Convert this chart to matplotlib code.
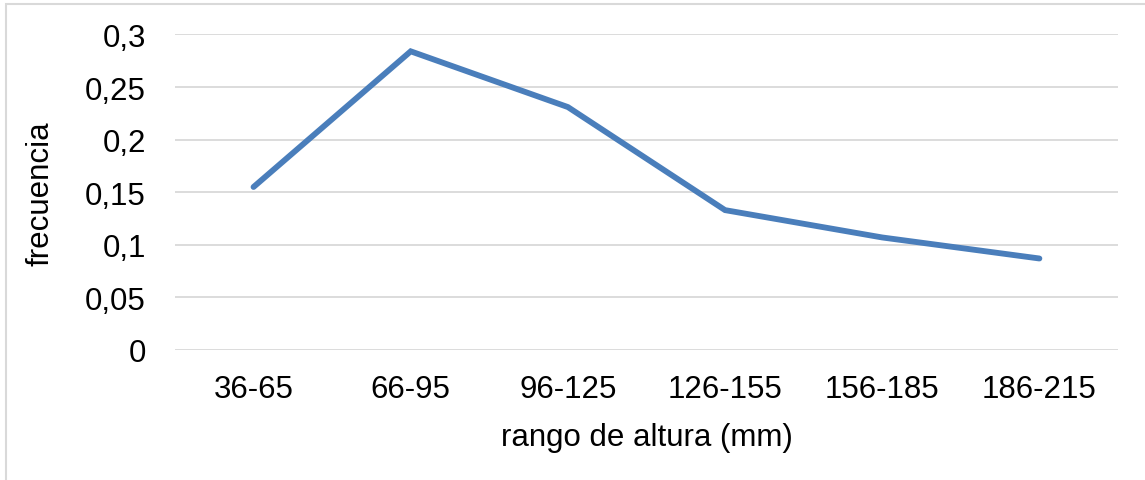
#!/usr/bin/env python3

"""
plot.py
"""

from matplotlib import pyplot as plt
from matplotlib.patches import Rectangle
from matplotlib.ticker import FuncFormatter, MultipleLocator

# Height ranges and their relative frequency.
rangos = ['36-65', '66-95', '96-125', '126-155', '156-185', '186-215']
frecuencias = [0.155, 0.284, 0.231, 0.133, 0.107, 0.087]

plt.rcParams['font.family'] = ['Liberation Sans', 'DejaVu Sans']

fig = plt.figure(figsize=(11.45, 4.81), dpi=100)
ax = fig.add_axes([0.1528, 0.2703, 0.8236, 0.6559])

# Light border around the chart area.
fig.patches.append(Rectangle((6 / 1145, -0.1), 1.2, 1 - 5 / 481 + 0.1,
                             transform=fig.transFigure, fill=False,
                             edgecolor='#d9d9d9', linewidth=1.5))

x = list(range(len(rangos)))
ax.plot(x, frecuencias, color='#4a7ebb', linewidth=4.2,
        solid_capstyle='round', solid_joinstyle='miter', zorder=3)

ax.set_xlim(-0.5, len(rangos) - 0.5)
ax.set_ylim(0, 0.3)
ax.yaxis.set_major_locator(MultipleLocator(0.05))
ax.yaxis.set_major_formatter(
  FuncFormatter(lambda v, _: '{:g}'.format(round(v, 2)).replace('.', ',')))
ax.set_xticks(x)
ax.set_xticklabels(rangos)

ax.grid(axis='y', color='#d9d9d9', linewidth=1.3)
ax.set_axisbelow(True)
for spine in ax.spines.values():
  spine.set_visible(False)
ax.tick_params(length=0, labelsize=22.5, colors='black')
ax.tick_params(axis='y', pad=21)
ax.tick_params(axis='x', pad=17)

ax.set_xlabel('rango de altura (mm)', fontsize=22.5, labelpad=13)
ax.set_ylabel('frecuencia', fontsize=22.5, labelpad=21)

fig.savefig('out.png', dpi=100)
